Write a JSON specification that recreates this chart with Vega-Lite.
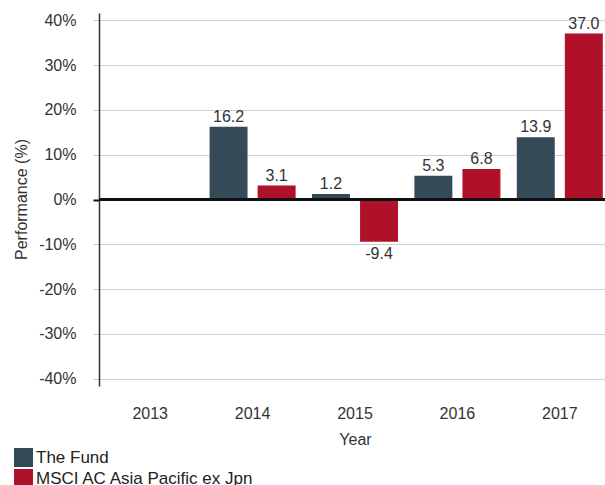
{
  "$schema": "https://vega.github.io/schema/vega-lite/v6.json",
  "width": 506,
  "height": 373,
  "autosize": {"type": "none"},
  "padding": {"left": 99, "top": 13, "right": 0, "bottom": 99},
  "background": "white",
  "config": {
    "view": {"stroke": null},
    "font": "Liberation Sans"
  },
  "data": {
    "values": [
      {"year": "2014", "series": "The Fund", "value": 16.2},
      {"year": "2014", "series": "MSCI AC Asia Pacific ex Jpn", "value": 3.1},
      {"year": "2015", "series": "The Fund", "value": 1.2},
      {"year": "2015", "series": "MSCI AC Asia Pacific ex Jpn", "value": -9.4},
      {"year": "2016", "series": "The Fund", "value": 5.3},
      {"year": "2016", "series": "MSCI AC Asia Pacific ex Jpn", "value": 6.8},
      {"year": "2017", "series": "The Fund", "value": 13.9},
      {"year": "2017", "series": "MSCI AC Asia Pacific ex Jpn", "value": 37.0}
    ]
  },
  "encoding": {
    "x": {
      "field": "year",
      "type": "nominal",
      "scale": {
        "domain": ["2013", "2014", "2015", "2016", "2017"],
        "range": [0, 512],
        "paddingInner": 0.16,
        "paddingOuter": 0.08
      },
      "axis": {
        "title": "Year",
        "titleFontSize": 16,
        "titleFontWeight": "normal",
        "titleColor": "#333333",
        "titleBaseline": "alphabetic",
        "titleY": 58,
        "labelAngle": 0,
        "labelFontSize": 16,
        "labelColor": "#333333",
        "labelPadding": 19,
        "ticks": false,
        "domain": false,
        "grid": false
      }
    },
    "xOffset": {
      "field": "series",
      "type": "nominal",
      "scale": {
        "domain": ["The Fund", "MSCI AC Asia Pacific ex Jpn"],
        "paddingInner": 0.21,
        "paddingOuter": 0
      }
    },
    "y": {
      "field": "value",
      "type": "quantitative",
      "scale": {"domain": [-41.6, 41.6], "nice": false, "zero": false},
      "axis": {
        "title": "Performance (%)",
        "titleFontSize": 16,
        "titleFontWeight": "normal",
        "titleColor": "#333333",
        "titleBaseline": "alphabetic",
        "titleX": -73,
        "titleY": 186,
        "values": [-40, -30, -20, -10, 0, 10, 20, 30, 40],
        "labelExpr": "datum.value + '%'",
        "labelFontSize": 16,
        "labelColor": "#333333",
        "labelPadding": 17,
        "tickSize": 6,
        "tickColor": {"condition": {"test": "datum.value === 0", "value": "#111111"}, "value": "#cccccc"},
        "tickWidth": {"condition": {"test": "datum.value === 0", "value": 2}, "value": 1},
        "domainColor": "#333333",
        "domainWidth": 1.5,
        "grid": true,
        "gridColor": "#d0d0d0",
        "gridWidth": 1
      }
    }
  },
  "layer": [
    {
      "mark": {"type": "bar"},
      "encoding": {
        "color": {
          "field": "series",
          "type": "nominal",
          "scale": {
            "domain": ["The Fund", "MSCI AC Asia Pacific ex Jpn"],
            "range": ["#354a57", "#af1128"]
          },
          "legend": {
            "title": null,
            "orient": "none",
            "legendX": -85,
            "legendY": 435,
            "padding": 0,
            "symbolType": "square",
            "symbolSize": 361,
            "symbolStrokeWidth": 0,
            "symbolOpacity": 1,
            "rowPadding": 2,
            "labelFontSize": 17,
            "labelColor": "#222222",
            "labelOffset": 3,
            "labelLimit": 400
          }
        }
      }
    },
    {
      "transform": [{"filter": "datum.value >= 0"}],
      "mark": {"type": "text", "baseline": "alphabetic", "dy": -5, "fontSize": 16, "color": "#333333"},
      "encoding": {"text": {"field": "value", "type": "quantitative", "format": ".1f"}}
    },
    {
      "transform": [
        {"filter": "datum.value < 0"},
        {"calculate": "'-' + format(abs(datum.value), '.1f')", "as": "label"}
      ],
      "mark": {"type": "text", "baseline": "alphabetic", "dy": 17, "fontSize": 16, "color": "#333333"},
      "encoding": {
        "text": {"field": "label", "type": "nominal"}
      }
    },
    {
      "mark": {"type": "rule", "color": "#111111", "strokeWidth": 2},
      "encoding": {"y": {"datum": 0}, "x": {"value": 0}, "x2": {"value": 506}, "xOffset": null}
    }
  ]
}
